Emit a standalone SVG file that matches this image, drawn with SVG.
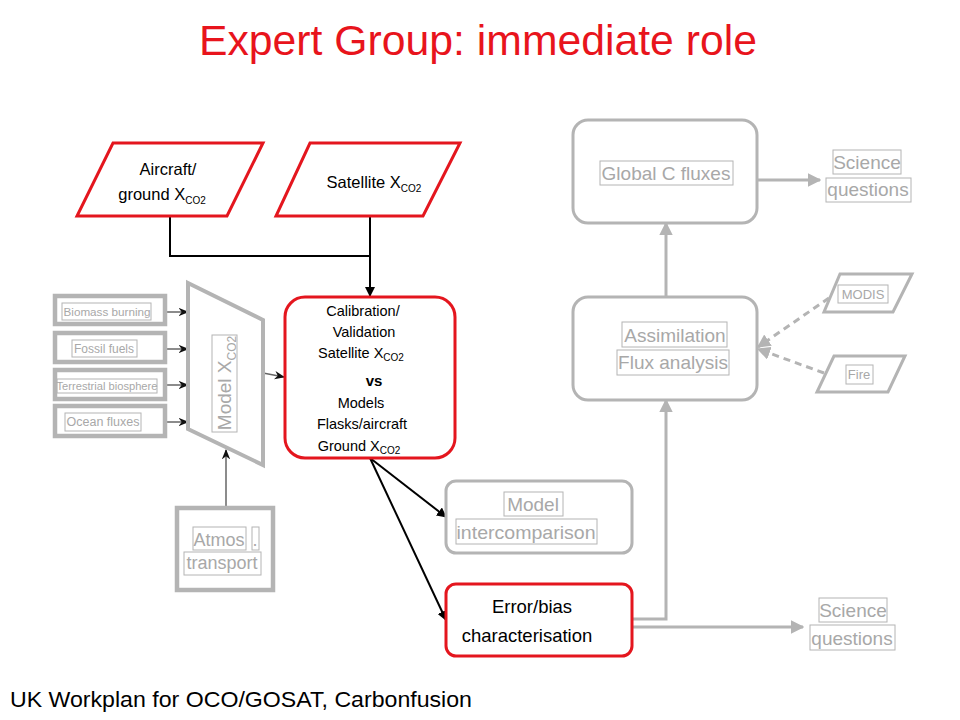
<svg xmlns="http://www.w3.org/2000/svg" width="960" height="720" viewBox="0 0 960 720">
<defs>
<marker id="ab" viewBox="0 0 10 10" refX="9" refY="5" markerWidth="5" markerHeight="5" orient="auto" markerUnits="strokeWidth"><path d="M0,0 L10,5 L0,10 Z" fill="#000"/></marker>
<marker id="ag" viewBox="0 0 10 10" refX="9" refY="5" markerWidth="4.5" markerHeight="4.5" orient="auto" markerUnits="strokeWidth"><path d="M0,0 L10,5 L0,10 Z" fill="#b4b4b4"/></marker>
<marker id="ad" viewBox="0 0 10 10" refX="9" refY="5" markerWidth="7" markerHeight="7" orient="auto" markerUnits="strokeWidth"><path d="M0,1 L10,5 L0,9 L3,5 Z" fill="#111"/></marker>
</defs>
<style>
text{font-family:"Liberation Sans",Arial,sans-serif}
.red{fill:#fff;stroke:#e4161e;stroke-width:3}
.gbox{fill:#fff;stroke:#b4b4b4;stroke-width:3}
.gthick{fill:#fff;stroke:#b4b4b4;stroke-width:4.5}
.tb{fill:none;stroke:#b4b4b4;stroke-width:1}
.gt{fill:#a8a8a8;text-anchor:middle}
.bt{fill:#000;text-anchor:middle}
.sub{font-size:10px}
.blk{stroke:#000;stroke-width:2;fill:none}
.gl{stroke:#b4b4b4;stroke-width:3;fill:none}
.dl{stroke:#666;stroke-width:1.5;fill:none}
</style>
<rect width="960" height="720" fill="#fff"/>
<text x="478" y="55" font-size="42.5" fill="#e8141c" text-anchor="middle" textLength="558" lengthAdjust="spacingAndGlyphs">Expert Group: immediate role</text>
<text x="10" y="707" font-size="22.5" fill="#000" textLength="462" lengthAdjust="spacingAndGlyphs">UK Workplan for OCO/GOSAT, Carbonfusion</text>

<g id="connectors">
<path class="blk" d="M170,216 V256 H370"/>
<path class="blk" d="M370,216 V296" marker-end="url(#ab)"/>
<path class="blk" d="M370,458 L446,517" marker-end="url(#ab)"/>
<path class="blk" d="M370,458 L446,620" marker-end="url(#ab)"/>
<path class="dl" d="M167,312 H188" marker-end="url(#ad)"/>
<path class="dl" d="M167,349 H188" marker-end="url(#ad)"/>
<path class="dl" d="M167,385 H188" marker-end="url(#ad)"/>
<path class="dl" d="M167,422 H188" marker-end="url(#ad)"/>
<path class="dl" d="M263,373 L284,377" marker-end="url(#ad)"/>
<path class="dl" d="M226,508 V450" marker-end="url(#ad)"/>
<path class="gl" d="M666,297 V223" marker-end="url(#ag)"/>
<path class="gl" d="M757,180 H820" marker-end="url(#ag)"/>
<path class="gl" d="M632,619 H666 V400" marker-end="url(#ag)"/>
<path class="gl" d="M632,627 H803" marker-end="url(#ag)"/>
<path class="gl" stroke-dasharray="7,5" d="M829,298 L758,347" marker-end="url(#ag)"/>
<path class="gl" stroke-dasharray="7,5" d="M824,373 L758,349" marker-end="url(#ag)"/>
</g>

<g id="aircraft">
<polygon class="red" points="113,143 263,143 227,216 77,216"/>
<text class="bt" x="168" y="175" font-size="16.5">Aircraft/</text>
<text class="bt" x="162" y="200" font-size="16.5">ground X<tspan class="sub" dy="4">CO2</tspan></text>
</g>

<g id="satellite">
<polygon class="red" points="310,143 460,143 423,216 276,216"/>
<text class="bt" x="374" y="188" font-size="16.5">Satellite X<tspan class="sub" dy="4">CO2</tspan></text>
</g>

<g id="calval">
<rect class="red" x="285" y="297" width="170" height="161" rx="20"/>
<text class="bt" x="363" y="316" font-size="14.5">Calibration/</text>
<text class="bt" x="364" y="337" font-size="14.5">Validation</text>
<text class="bt" x="361" y="358" font-size="14.5">Satellite X<tspan class="sub" dy="3">CO2</tspan></text>
<text class="bt" x="374" y="386" font-size="15" font-weight="bold">vs</text>
<text class="bt" x="361" y="408" font-size="14.5">Models</text>
<text class="bt" x="362" y="429" font-size="14.5">Flasks/aircraft</text>
<text class="bt" x="359" y="451" font-size="14.5">Ground X<tspan class="sub" dy="3">CO2</tspan></text>
</g>

<g id="modelinter">
<rect class="gbox" x="446" y="481" width="186" height="72" rx="10"/>
<rect class="tb" x="504" y="492" width="59" height="24"/>
<rect class="tb" x="456" y="519" width="141" height="25"/>
<text class="gt" x="533" y="511" font-size="19">Model</text>
<text class="gt" x="526" y="539" font-size="19" textLength="139" lengthAdjust="spacingAndGlyphs">intercomparison</text>
</g>

<g id="errorbias">
<rect class="red" x="446" y="584" width="186" height="72" rx="10"/>
<text class="bt" x="532" y="613" font-size="18.5">Error/bias</text>
<text class="bt" x="527" y="642" font-size="18.5">characterisation</text>
</g>

<g id="biomass">
<rect class="gthick" x="55" y="296" width="110" height="28"/>
<rect class="tb" x="62" y="303" width="89" height="17"/>
<text class="gt" x="107" y="316" font-size="11" textLength="87" lengthAdjust="spacingAndGlyphs">Biomass burning</text>
</g>
<g id="fossil">
<rect class="gthick" x="55" y="333" width="110" height="29"/>
<rect class="tb" x="72" y="340" width="65" height="17"/>
<text class="gt" x="104" y="353" font-size="12">Fossil fuels</text>
</g>
<g id="terrestrial">
<rect class="gthick" x="55" y="370" width="110" height="29"/>
<rect class="tb" x="57" y="379" width="100" height="14"/>
<text class="gt" x="107" y="390" font-size="10.5" textLength="101" lengthAdjust="spacingAndGlyphs">Terrestrial biosphere</text>
</g>
<g id="ocean">
<rect class="gthick" x="55" y="406" width="110" height="30"/>
<rect class="tb" x="65" y="413" width="76" height="18"/>
<text class="gt" x="103" y="426" font-size="12.5">Ocean  fluxes</text>
</g>

<g id="modelx">
<polygon points="188,283 263,320 263,465 188,429" fill="#fff" stroke="#b4b4b4" stroke-width="4"/>
<rect class="tb" x="212" y="335" width="25" height="97"/>
<text class="gt" transform="translate(231,383) rotate(-90)" x="0" y="0" font-size="19">Model X<tspan font-size="12" dy="5">CO2</tspan></text>
</g>

<g id="atmos">
<rect class="gthick" x="177" y="508" width="96" height="82"/>
<rect class="tb" x="193" y="527" width="53" height="23"/>
<rect class="tb" x="252" y="527" width="7" height="23"/>
<rect class="tb" x="184" y="552" width="77" height="23"/>
<text class="gt" x="219" y="546" font-size="18">Atmos</text>
<text class="gt" x="255" y="546" font-size="18">.</text>
<text class="gt" x="222" y="569" font-size="18">transport</text>
</g>

<g id="globalc">
<rect class="gbox" x="573" y="120" width="184" height="103" rx="15"/>
<rect class="tb" x="600" y="161" width="133" height="24"/>
<text class="gt" x="666" y="180" font-size="19">Global C fluxes</text>
</g>

<g id="science1">
<rect class="tb" x="833" y="150" width="68" height="24"/>
<rect class="tb" x="826" y="178" width="85" height="24"/>
<text class="gt" x="867" y="169" font-size="19">Science</text>
<text class="gt" x="868" y="196" font-size="19">questions</text>
</g>

<g id="assim">
<rect class="gbox" x="573" y="297" width="184" height="103" rx="15"/>
<rect class="tb" x="622" y="322" width="105" height="25"/>
<rect class="tb" x="617" y="350" width="112" height="25"/>
<text class="gt" x="675" y="342" font-size="19">Assimilation</text>
<text class="gt" x="673" y="369" font-size="19">Flux analysis</text>
</g>

<g id="modis">
<polygon class="gbox" points="840,274 912,274 893,312 824,312"/>
<rect class="tb" x="838" y="285" width="50" height="18"/>
<text class="gt" x="863" y="299" font-size="13">MODIS</text>
</g>

<g id="fire">
<polygon class="gbox" points="834,356 905,356 888,392 817,392"/>
<rect class="tb" x="846" y="365" width="27" height="19"/>
<text class="gt" x="859" y="379" font-size="13">Fire</text>
</g>

<g id="science2">
<rect class="tb" x="819" y="598" width="68" height="24"/>
<rect class="tb" x="810" y="625" width="85" height="25"/>
<text class="gt" x="853" y="617" font-size="19">Science</text>
<text class="gt" x="852" y="645" font-size="19">questions</text>
</g>
</svg>
